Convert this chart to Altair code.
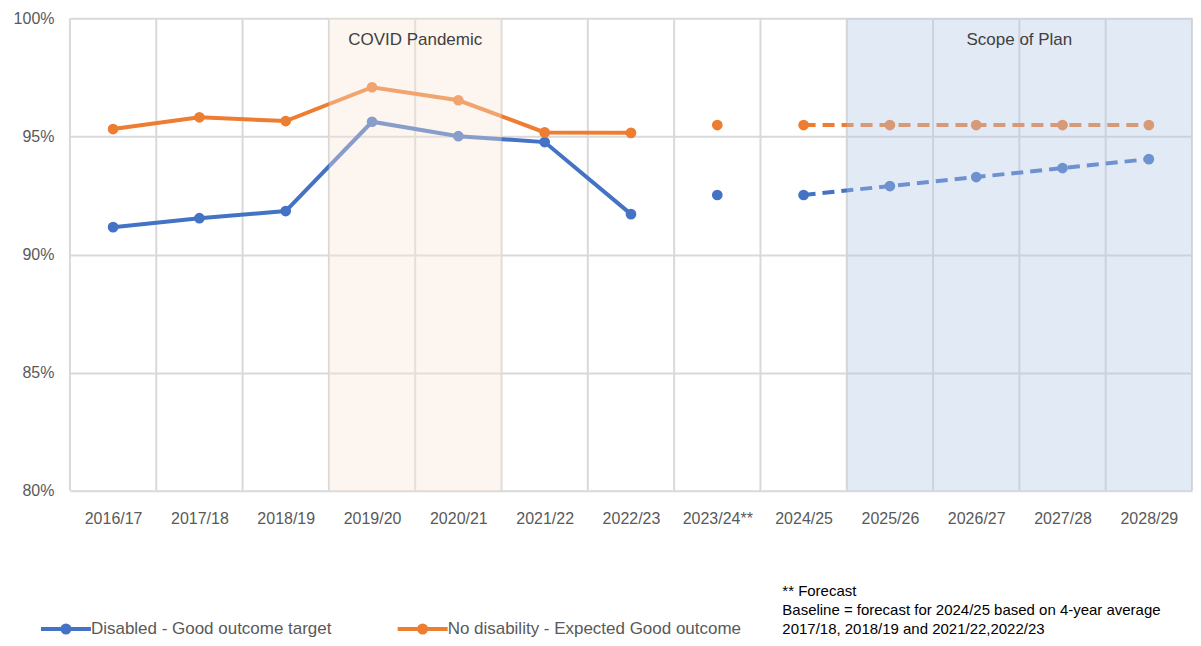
import json
import altair as alt
import pandas as pd

categories = ["2016/17", "2017/18", "2018/19", "2019/20", "2020/21", "2021/22", "2022/23",
              "2023/24**", "2024/25", "2025/26", "2026/27", "2027/28", "2028/29"]
disabled = [91.16, 91.54, 91.84, 95.62, 95.01, 94.76, 91.71, 92.52, 92.52, 92.90, 93.28, 93.66, 94.04]
no_disability = [95.31, 95.81, 95.65, 97.08, 96.53, 95.17, 95.15, 95.48, 95.48, 95.48, 95.48, 95.48, 95.48]
segment = ["Actual"] * 7 + ["Forecast"] + ["Plan"] * 5
series_names = ["Disabled - Good outcome target", "No disability - Expected Good outcome"]
series_colors = ["#4472C4", "#ED7D31"]

band_labels = ["COVID Pandemic", "Scope of Plan"]
band_start = [3, 9]
band_end = [5, 13]

note = "** Forecast\nBaseline = forecast for 2024/25 based on 4-year average\n2017/18, 2018/19 and 2021/22,2022/23"

rows = []
for name, vals in zip(series_names, [disabled, no_disability]):
    for i, (c, v, s) in enumerate(zip(categories, vals, segment)):
        rows.append({"idx": i + 0.5, "cat": c, "series": name, "value": v / 100, "segment": s})
df = pd.DataFrame(rows)
bounds = pd.DataFrame({"b": list(range(len(categories) + 1))})
bands = pd.DataFrame({"label": band_labels, "start": band_start, "end": band_end,
                      "mid": [(a + b) / 2 for a, b in zip(band_start, band_end)]})

W, H = 1123, 473
FONT = "Liberation Sans"
GRID = "#D9D9D9"

xscale = alt.Scale(domain=[0, len(categories)], nice=False, zero=False)
yscale = alt.Scale(domain=[0.8, 1.0], nice=False, zero=False)

label_expr = json.dumps(categories) + "[floor(datum.value)]"
xaxis = alt.Axis(values=[i + 0.5 for i in range(len(categories))], labelExpr=label_expr,
                 grid=False, ticks=False, domain=False, labelPadding=20, labelFontSize=16,
                 labelColor="#595959", labelFont=FONT, title=None)
yaxis = alt.Axis(values=[0.8, 0.85, 0.9, 0.95, 1.0], format=".0%", grid=True, gridColor=GRID,
                 gridWidth=2, ticks=False, domain=False, labelPadding=16, labelFontSize=16,
                 labelColor="#595959", labelFont=FONT, title=None, minExtent=62, maxExtent=62)

# symbol box is 20px (size 400); path drawn wider (50px) than the box
sym = ("M-2.5,0L2.5,0"
       "M-0.35,0A0.35,0.35,0,1,0,0.35,0A0.35,0.35,0,1,0,-0.35,0"
       "M-0.12,0A0.12,0.12,0,1,0,0.12,0A0.12,0.12,0,1,0,-0.12,0")
legend = alt.Legend(orient="none", legendX=-16, legendY=599, direction="horizontal", title=None,
                    symbolType=sym, symbolSize=400, symbolStrokeWidth=4, labelFontSize=17,
                    labelColor="#595959", labelFont=FONT, labelOffset=13, columnPadding=58,
                    labelLimit=500, padding=0)
color = alt.Color("series:N", scale=alt.Scale(domain=series_names, range=series_colors), legend=legend)

X = lambda f: alt.X(f, scale=xscale, axis=xaxis)
Y = lambda f: alt.Y(f, scale=yscale, axis=yaxis)

vgrid = alt.Chart(bounds).mark_rule(color=GRID, strokeWidth=2).encode(x=X("b:Q"))

base = alt.Chart(df)
solid = base.transform_filter(alt.datum.segment == "Actual").mark_line(strokeWidth=4).encode(
    x=X("idx:Q"), y=Y("value:Q"), color=color, detail="series:N")
dashed = base.transform_filter(alt.datum.segment == "Plan").mark_line(
    strokeWidth=4, strokeDash=[12, 7]).encode(
    x=X("idx:Q"), y=Y("value:Q"), color=color, detail="series:N")
points = base.mark_circle(size=115, opacity=1).encode(
    x=X("idx:Q"), y=Y("value:Q"), color=color)

band_rects = alt.Chart(bands).mark_rect(opacity=0.38).encode(
    x=X("start:Q"), x2="end:Q",
    y=alt.value(0), y2=alt.value(H),
    fill=alt.Color("label:N", scale=alt.Scale(domain=band_labels, range=["#FBE5D6", "#B4C7E7"]),
                   legend=None))
band_text = alt.Chart(bands).mark_text(fontSize=17, font=FONT, color="#404040", baseline="middle").encode(
    x=X("mid:Q"), y=alt.value(22), text="label:N")

note_text = alt.Chart(pd.DataFrame({"t": [note]})).mark_text(
    align="left", baseline="middle", fontSize=15, font=FONT, color="#000000",
    lineBreak="\n", lineHeight=19).encode(
    x=alt.value(713), y=alt.value(573), text="t:N")

chart = alt.layer(vgrid, solid, dashed, points, band_rects, band_text, note_text).properties(
    width=W, height=H, padding={"left": 0, "top": 2, "right": 0, "bottom": 0}
).configure_view(stroke=None)

chart.save("out.html", embed_options={"renderer": "svg", "actions": False})
